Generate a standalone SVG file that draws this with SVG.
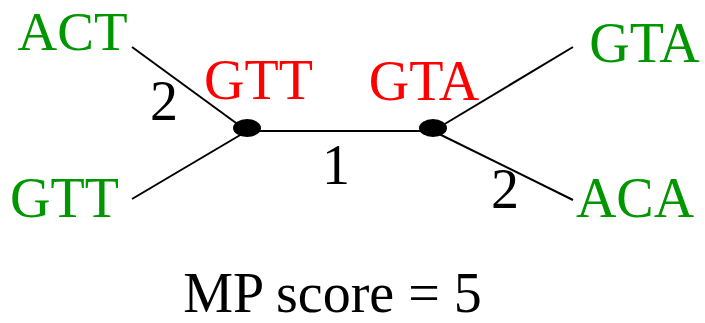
<svg xmlns="http://www.w3.org/2000/svg" width="705" height="323" viewBox="0 0 705 323">
<style>
text{font-family:"Liberation Serif","Times New Roman",serif;font-size:56px;text-anchor:middle}
.g{fill:#009600}
.r{fill:#ff0000}
.k{fill:#000}
.e{stroke:#000;stroke-width:2;fill:none}
</style>
<rect width="705" height="323" fill="#fff"/>
<g id="edges">
<line class="e" x1="132" y1="47" x2="247" y2="131"/>
<line class="e" x1="132" y1="199" x2="247" y2="131"/>
<line class="e" x1="247" y1="131" x2="433" y2="131"/>
<line class="e" x1="433" y1="131" x2="573" y2="47"/>
<line class="e" x1="433" y1="131" x2="573" y2="200"/>
<text class="k" x="164" y="120">2</text>
<text class="k" x="336" y="184">1</text>
<text class="k" x="505" y="208">2</text>
</g>
<g id="leaf-act"><text class="g" x="72.5" y="50" style="font-size:55px">ACT</text></g>
<g id="leaf-gtt"><text class="g" x="64.5" y="217">GTT</text></g>
<g id="leaf-gta"><text class="g" x="644.5" y="62">GTA</text></g>
<g id="leaf-aca"><text class="g" x="635" y="217">ACA</text></g>
<g id="inner-left">
<ellipse cx="247" cy="128" rx="14" ry="9" fill="#000"/>
<text class="r" x="258.5" y="99">GTT</text>
</g>
<g id="inner-right">
<ellipse cx="433" cy="128" rx="14" ry="9" fill="#000"/>
<text class="r" x="424" y="100">GTA</text>
</g>
<g id="score"><text class="k" x="332.5" y="312">MP score = 5</text></g>
</svg>
